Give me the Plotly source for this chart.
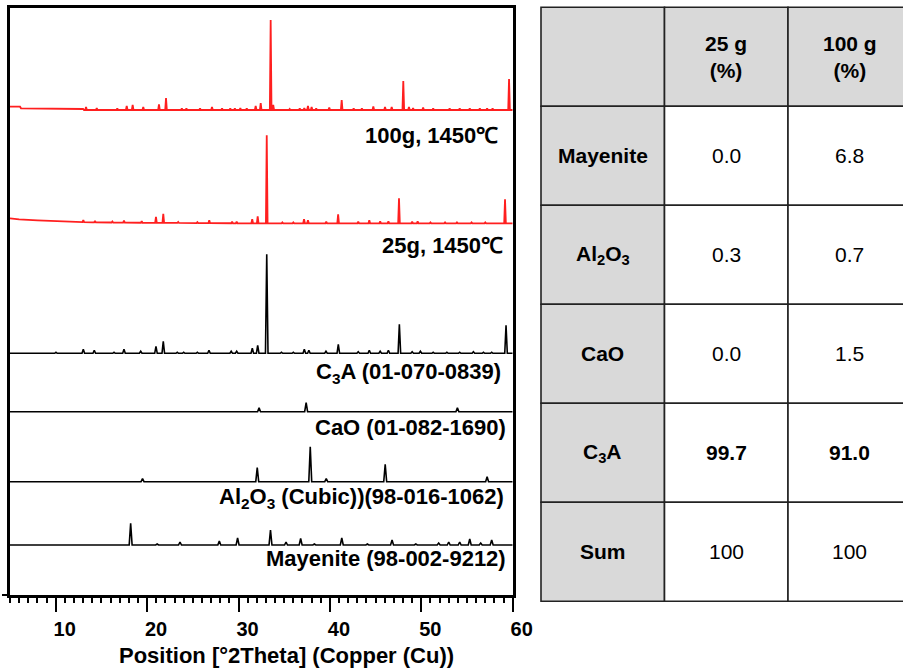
import numpy as np
import plotly.graph_objects as go

# ---------------- XRD data (2-theta positions, peak intensities in a.u.) ----------------
s100_pos = [13.32, 14.49, 16.74, 17.77, 18.42, 19.58, 21.30, 22.07, 23.8, 24.3, 25.79, 27.10,
            28.2, 29.1, 29.6, 30.2, 30.9, 31.88, 32.43, 33.52, 33.8, 35.6, 36.7, 37.2, 37.6,
            38.0, 38.5, 39.93, 41.29, 42.6, 43.5, 44.75, 46.03, 46.76, 48.03, 48.65, 49.1,
            50.2, 51.3, 53.1, 54.2, 55.3, 56.4, 57.2, 57.8, 59.6]
s100_int = [3, 2, 1.5, 4, 5, 3, 5.5, 12, 1.5, 1.5, 1.5, 3,
            1.5, 1.5, 1.5, 2, 1.5, 4, 7, 90, 5, 1, 1.5, 2, 4,
            3, 1.5, 2.5, 10, 1.5, 1.5, 3.5, 3, 3, 29, 3, 2,
            2.5, 1.5, 1.5, 1.5, 1.5, 1.5, 1.5, 1.5, 31]
s100_bg_x = [5, 6.1, 6.2, 7.9, 8.1, 13.0, 13.1, 60]
s100_bg_y = [3.3, 3.3, 1.7, 1.7, 1.0, 1.0, 0.0, 0.0]

s25_pos = [13.02, 14.3, 16.2, 17.47, 19.41, 20.97, 21.77, 23.4, 25.5, 26.8, 29.3, 29.8,
           31.5, 32.1, 33.09, 34.8, 36.0, 37.17, 37.6, 39.6, 40.9, 43.1, 44.31, 45.5,
           46.4, 47.56, 49.0, 49.6, 51.0, 52.6, 53.9, 55.5, 57.0, 59.16]
s25_int = [2, 1.5, 1, 2, 1.5, 6, 9, 1, 1, 3, 1.5, 1.5,
           4, 7, 88, 1, 1, 4, 3, 1.5, 9, 1.5, 3, 2,
           2, 25, 1.5, 2, 1, 1, 1, 1, 1, 24]
s25_bg_x = [5, 6, 8, 10, 14, 20, 30, 60]
s25_bg_y = [5, 4, 3, 2, 1, 0.5, 0, 0]

c3a_pos = [10.03, 13.02, 14.22, 16.38, 17.47, 19.3, 20.97, 21.77, 23.3, 24.0, 25.5, 26.77,
           29.2, 29.8, 31.51, 32.1, 33.09, 34.7, 36.0, 37.2, 37.7, 39.57, 40.92, 43.1,
           44.31, 45.5, 46.4, 47.6, 49.0, 49.9, 51.3, 52.8, 54.2, 55.7, 56.8, 57.7, 59.27]
c3a_int = [1, 4, 3, 1, 4, 2, 7, 12, 1, 1, 1, 3,
           2, 2, 5, 8, 99, 1, 1, 4, 3, 2, 9, 1.5,
           3, 2, 3, 29, 1.5, 2, 1, 1, 1, 1.5, 1, 1, 28]

cao_pos = [32.25, 37.4, 53.95]
cao_int = [4, 9, 4]

al2o3_pos = [19.5, 32.05, 37.85, 39.6, 46.05, 57.2]
al2o3_int = [3, 14, 35, 3, 17.5, 5]

may_pos = [18.2, 21.1, 23.6, 27.9, 29.9, 33.5, 35.2, 36.8, 38.3, 41.3, 44.1, 46.8,
           49.4, 51.9, 53.0, 54.2, 55.3, 56.5, 57.7]
may_int = [21.7, 1, 3, 4, 7, 15, 3, 6.5, 1, 7, 1, 5,
           1, 2, 3, 3, 6, 2, 5]

pattern_labels = ["100g, 1450℃", "25g, 1450℃", "C<sub>3</sub>A (01-070-0839)",
                  "CaO (01-082-1690)", "Al<sub>2</sub>O<sub>3</sub> (Cubic))(98-016-1062)",
                  "Mayenite (98-002-9212)"]

# ---------------- Table data ----------------
table_phases = ["Mayenite", "Al<sub>2</sub>O<sub>3</sub>", "CaO", "C<sub>3</sub>A", "Sum"]
table_headers = ["25 g<br>(%)", "100 g<br>(%)"]
frac_25g = [0.0, 0.3, 0.0, 99.7, 100]
frac_100g = [6.8, 0.7, 1.5, 91.0, 100]
bold_rows = ["C<sub>3</sub>A"]

# ---------------- helpers ----------------
FONT = "Liberation Sans, Arial, sans-serif"
X0, X1 = 5, 60


def profile(pos, inten, offset, half_w, bg_x=None, bg_y=None):
    if bg_x is None:
        bg_x, bg_y = [X0, X1], [0, 0]
    pts = list(zip(bg_x, bg_y))
    for p, h in zip(pos, inten):
        b = float(np.interp(p, bg_x, bg_y))
        pts.append((p - half_w, float(np.interp(p - half_w, bg_x, bg_y))))
        pts.append((p, b + h))
        pts.append((p + half_w, float(np.interp(p + half_w, bg_x, bg_y))))
    pts.sort(key=lambda t: t[0])
    xs = [t[0] for t in pts]
    ys = [t[1] + offset for t in pts]
    return xs, ys


RED = "#ff1f1f"
patterns = [
    (s100_pos, s100_int, 485.0, 0.09, s100_bg_x, s100_bg_y, RED, 1.8),
    (s25_pos, s25_int, 371.7, 0.09, s25_bg_x, s25_bg_y, RED, 1.8),
    (c3a_pos, c3a_int, 241.7, 0.14, None, None, "black", 1.6),
    (cao_pos, cao_int, 183.3, 0.16, None, None, "black", 1.6),
    (al2o3_pos, al2o3_int, 113.3, 0.16, None, None, "black", 1.6),
    (may_pos, may_int, 50.0, 0.16, None, None, "black", 1.6),
]

fig = go.Figure()
for pos, inten, off, hw, bx, by, col, lw in patterns:
    xs, ys = profile(pos, inten, off, hw, bx, by)
    fig.add_trace(go.Scatter(x=xs, y=ys, mode="lines", line=dict(color=col, width=lw),
                             hoverinfo="skip", showlegend=False, xaxis="x", yaxis="y"))

label_y = [460, 350, 222, 168, 97, 37]
label_x = [58.6, 59.15, 58.95, 59.5, 59.3, 59.5]
annotations = []
for t, ly, lx in zip(pattern_labels, label_y, label_x):
    annotations.append(dict(text=t, x=lx, y=ly, xref="x", yref="y", xanchor="right",
                            yanchor="middle", showarrow=False,
                            font=dict(family=FONT, size=22, color="black", weight="bold")))
annotations.append(dict(text="Position [°2Theta] (Copper (Cu))", x=0.55, y=1 - 655 / 670,
                        xref="x domain", yref="paper", xanchor="center", yanchor="middle",
                        showarrow=False,
                        font=dict(family=FONT, size=22, color="black", weight="bold")))

GRAY = "#d9d9d9"
shapes = []
n_rows = len(table_phases) + 1
for r in range(n_rows):
    for c in range(3):
        fill = GRAY if (r == 0 or c == 0) else "white"
        shapes.append(dict(type="rect", xref="x2", yref="y2", x0=c, x1=c + 1, y0=r, y1=r + 1,
                           fillcolor=fill, line=dict(color="#222222", width=1.6), layer="below"))

cells = []
for c, h in enumerate(table_headers):
    cells.append((c + 1.5, 0.5, "<b>" + h + "</b>"))
for r, ph in enumerate(table_phases):
    row = r + 1
    cells.append((0.5, row + 0.5, "<b>" + ph + "</b>"))
    for c, v in enumerate([frac_25g[r], frac_100g[r]]):
        s = f"{v:.0f}" if ph == "Sum" else f"{v:.1f}"
        if ph in bold_rows:
            s = "<b>" + s + "</b>"
        cells.append((c + 1.5, row + 0.5, s))

for cx, cy, ct in cells:
    annotations.append(dict(text=ct, x=cx, y=cy, xref="x2", yref="y2", xanchor="center",
                            yanchor="middle", showarrow=False,
                            font=dict(family=FONT, size=21, color="black")))

CW, RH = 123.5, 99.0
tab_left, tab_top = 541.0, 7.3

fig.update_layout(
    width=903, height=670, autosize=False,
    margin=dict(l=0, r=0, t=0, b=0, pad=0, autoexpand=False),
    paper_bgcolor="white", plot_bgcolor="white",
    showlegend=False,
    xaxis=dict(domain=[10 / 903, 512.7 / 903], range=[X0, X1], showgrid=False, zeroline=False,
               showline=True, linecolor="black", linewidth=2.5, mirror=True,
               ticks="outside", ticklen=14, tickwidth=2, tickcolor="black",
               tick0=0, dtick=10, ticklabelshift=9, automargin=False,
               minor=dict(dtick=1, tick0=0, ticks="outside", ticklen=5, tickwidth=1.5,
                          tickcolor="black", showgrid=False),
               tickfont=dict(family=FONT, size=20, color="black", weight="bold"),
               fixedrange=True),
    yaxis=dict(domain=[1 - 595 / 670, 1 - 8 / 670], range=[0, 587], showgrid=False,
               zeroline=False, showline=True, linecolor="black", linewidth=2.5, mirror=True,
               ticks="outside", tickvals=[0], ticklen=5, tickwidth=2, tickcolor="black",
               showticklabels=False, fixedrange=True, automargin=False),
    xaxis2=dict(domain=[538 / 903, 1.0], range=[(538 - tab_left) / CW, (903 - tab_left) / CW],
                visible=False, fixedrange=True, anchor="y2", automargin=False),
    yaxis2=dict(domain=[1 - 605 / 670, 1 - 4 / 670],
                range=[(605 - tab_top) / RH, (4 - tab_top) / RH],
                visible=False, fixedrange=True, anchor="x2", automargin=False),
    shapes=shapes,
    annotations=annotations,
)

fig.write_html(
    "out.html",
    config={"responsive": False, "displayModeBar": False},
    post_script=("document.body.style.margin='0';document.body.style.overflow='hidden';"
                 "document.documentElement.style.overflow='hidden';"),
)
